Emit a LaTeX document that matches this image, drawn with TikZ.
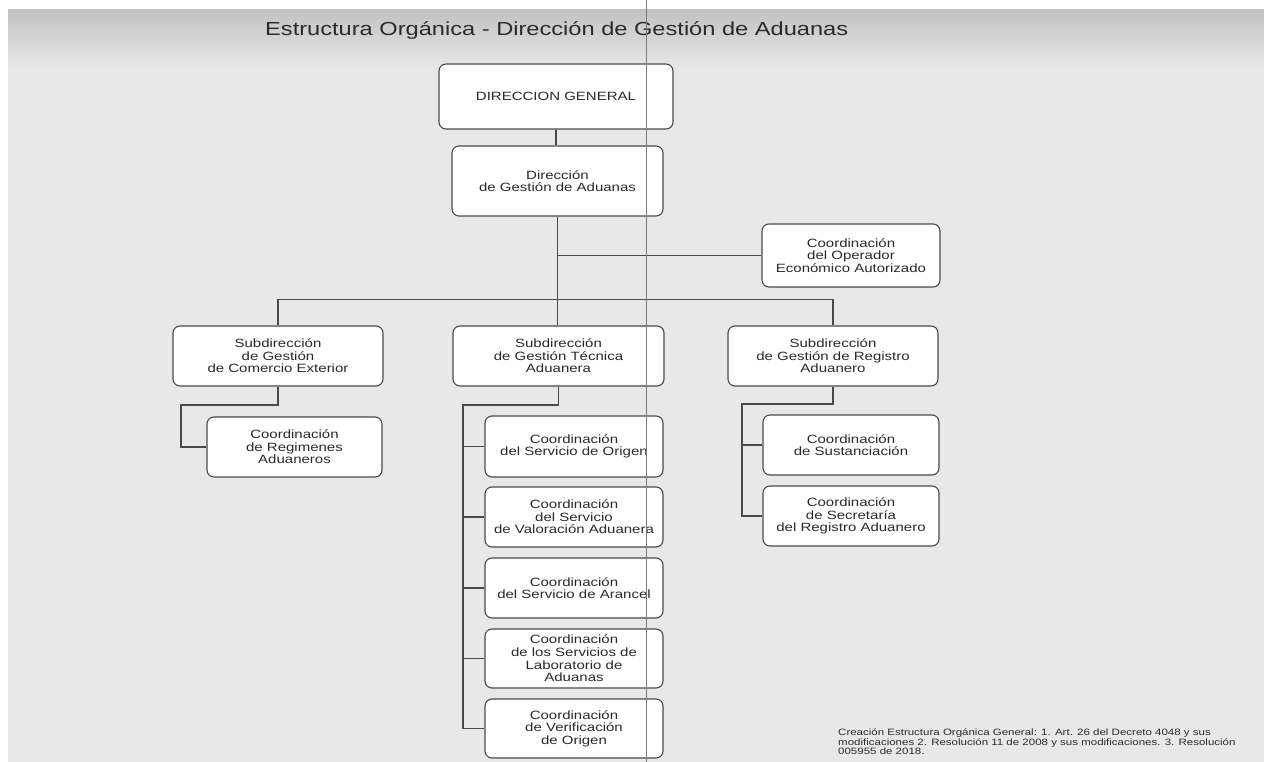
\documentclass[tikz,border=0pt]{standalone}
\usepackage{fontspec}
\setmainfont{Liberation Sans}[FakeStretch=1.25]
\usetikzlibrary{calc}
\definecolor{bg}{HTML}{E8E8E8}
\definecolor{bgtop}{HTML}{C2C2C2}
\definecolor{linec}{HTML}{4A4A4A}
\definecolor{txt}{HTML}{2A2A2A}
\definecolor{fold}{HTML}{7A7A7A}
\tikzset{
  box/.style={draw=linec, line width=1.1pt, fill=white, rounded corners=7pt, inner sep=0pt,
    align=center, text=txt, font=\fontsize{12}{12.6}\selectfont},
  conn/.style={draw=linec, line width=1.1pt},
}
\begin{document}
\begin{tikzpicture}[x=1pt,y=-1pt]
% background
\fill[white] (0,0) rectangle (1264,762);
\fill[bg] (8,10) rectangle (1264,762);
\shade[top color=bgtop, bottom color=bg] (8,10) rectangle (1264,68);
\useasboundingbox (0,0) rectangle (1264,762);

% title
\node[anchor=west, inner sep=0pt, text=txt, font=\fontsize{18.9}{21}\selectfont] (title) at (265,31)
  {Estructura Orgánica - Dirección de Gestión de Aduanas};

% boxes
\node[box, minimum width=234, minimum height=65] (dg) at (556,96.5) {DIRECCION GENERAL};
\node[box, minimum width=211, minimum height=70] (dga) at (557.5,181) {Dirección\\de Gestión de Aduanas};
\node[box, minimum width=178, minimum height=63] (op) at (851,255.5) {Coordinación\\del Operador\\Económico Autorizado};

\node[box, minimum width=210, minimum height=60] (sub1) at (278,356) {Subdirección\\de Gestión\\de Comercio Exterior};
\node[box, minimum width=211, minimum height=60] (sub2) at (558.5,356) {Subdirección\\de Gestión Técnica\\Aduanera};
\node[box, minimum width=210, minimum height=60] (sub3) at (833,356) {Subdirección\\de Gestión de Registro\\Aduanero};

\node[box, minimum width=175, minimum height=60] (reg) at (294.5,447) {Coordinación\\de Regimenes\\Aduaneros};

\node[box, minimum width=178, minimum height=61] (orig) at (574,446.5) {Coordinación\\del Servicio de Origen};
\node[box, minimum width=178, minimum height=60] (valor) at (574,517) {Coordinación\\del Servicio\\de Valoración Aduanera};
\node[box, minimum width=178, minimum height=60] (aran) at (574,588) {Coordinación\\del Servicio de Arancel};
\node[box, minimum width=178, minimum height=59] (lab) at (574,658.5) {Coordinación\\de los Servicios de\\Laboratorio de\\Aduanas};
\node[box, minimum width=178, minimum height=59] (verif) at (574,728.5) {Coordinación\\de Verificación\\de Origen};

\node[box, minimum width=176, minimum height=60] (sust) at (851,445) {Coordinación\\de Sustanciación};
\node[box, minimum width=176, minimum height=60] (secr) at (851,516) {Coordinación\\de Secretaría\\del Registro Aduanero};

% connectors
\coordinate (lj) at (181,405);
\coordinate (mj) at (463,405);
\coordinate (rj) at (742,404);
\draw[conn] (dg.south) -- (dg.south |- dga.north);
\draw[conn] (dga.south) -- (dga.south |- sub2.north);
\draw[conn] (dga.south |- op.west) -- (op.west);
\draw[conn] (sub1.north) -- ++(0,-26) -| (sub3.north);
\draw[conn] (sub1.south) |- (lj) |- (reg.west);
\draw[conn] (sub2.south) |- (mj) |- (verif.west);
\draw[conn] (mj |- orig.west) -- (orig.west);
\draw[conn] (mj |- valor.west) -- (valor.west);
\draw[conn] (mj |- aran.west) -- (aran.west);
\draw[conn] (mj |- lab.west) -- (lab.west);
\draw[conn] (sub3.south) |- (rj) |- (secr.west);
\draw[conn] (rj |- sust.west) -- (sust.west);

% scan fold line
\draw[fold, line width=0.8pt] (646,0) -- (646,762);

% footer
\node[anchor=north west, inner sep=0pt, align=left, text=txt, font=\fontsize{9.2}{9.4}\selectfont] (foot) at (838,729)
  {Creación Estructura Orgánica General: 1. Art. 26 del Decreto 4048 y sus\\
   modificaciones 2. Resolución 11 de 2008 y sus modificaciones. 3. Resolución\\
   005955 de 2018.};
\end{tikzpicture}
\end{document}
